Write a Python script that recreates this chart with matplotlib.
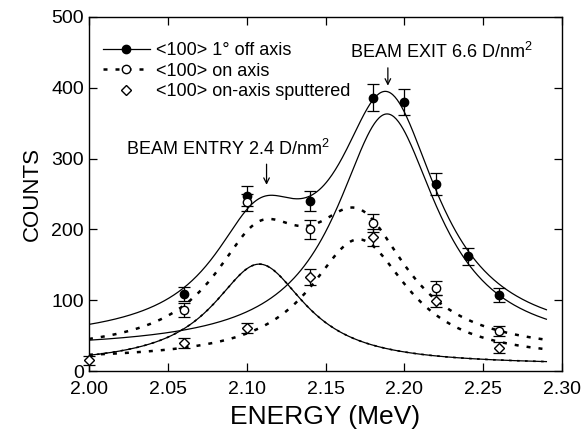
import matplotlib
matplotlib.use("Agg")
import matplotlib.pyplot as plt
import numpy as np
from matplotlib.lines import Line2D

plt.rcParams["font.family"] = ["Liberation Sans", "DejaVu Sans"]
plt.rcParams["mathtext.fontset"] = "custom"
plt.rcParams["mathtext.rm"] = "Liberation Sans"

# measured points (energy in MeV, counts, error)
E_OFF = [2.06, 2.10, 2.14, 2.18, 2.20, 2.22, 2.24, 2.26]
C_OFF = [109, 247, 240, 386, 380, 264, 162, 107]
ERR_OFF = [10, 14, 14, 19, 18, 15, 12, 10]

E_ON = [2.06, 2.10, 2.14, 2.18, 2.22, 2.26]
C_ON = [86, 238, 200, 209, 117, 57]
ERR_ON = [10, 12, 13, 13, 10, 7]

E_SPUT = [2.00, 2.06, 2.10, 2.14, 2.18, 2.22, 2.26]
C_SPUT = [15, 40, 61, 133, 189, 99, 33]
ERR_SPUT = [6, 7, 7, 11, 12, 9, 8]

# Lorentzian fit components: centre (MeV), height, half width (MeV), background
# entry peak, exit peak (off axis), sputtered peak (on axis)
PEAK_CENTRE = [2.108, 2.189, 2.171]
PEAK_HEIGHT = [143, 333, 171]
PEAK_WIDTH = [0.036, 0.039, 0.038]
PEAK_BG = [8, 30, 15]

FIT_RANGE = (2.00, 2.29)


def lorentz(e, i):
    return PEAK_BG[i] + PEAK_HEIGHT[i] / (1 + ((e - PEAK_CENTRE[i]) / PEAK_WIDTH[i]) ** 2)


e = np.linspace(FIT_RANGE[0], FIT_RANGE[1], 400)
entry = lorentz(e, 0)
exit_off = lorentz(e, 1)
sput = lorentz(e, 2)

fig = plt.figure(figsize=(5.85, 4.33), dpi=100)
ax = fig.add_axes([0.152, 0.143, 0.809, 0.818])

dash = dict(color="black", linewidth=1.8, linestyle=(0, (1.6, 3.2)))
ax.plot(e, entry + exit_off, color="black", linewidth=0.9)
ax.plot(e, exit_off, color="black", linewidth=0.9)
ax.plot(e, entry, color="black", linewidth=0.9)
ax.plot(e, entry, color="black", linewidth=1.2, linestyle=(0, (1.6, 3.2)))
ax.plot(e, entry + sput, **dash)
ax.plot(e, sput, **dash)

eb = dict(fmt="none", ecolor="black", elinewidth=0.9, capsize=4, capthick=0.9, clip_on=False)
ax.errorbar(E_OFF, C_OFF, yerr=ERR_OFF, **eb)
ax.errorbar(E_ON, C_ON, yerr=ERR_ON, **eb)
ax.errorbar(E_SPUT, C_SPUT, yerr=ERR_SPUT, **eb)
ax.plot(E_OFF, C_OFF, "o", color="black", markersize=6, zorder=5)
ax.plot(E_ON, C_ON, "o", markerfacecolor="white", markeredgecolor="black",
        markeredgewidth=1.0, markersize=6, zorder=5)
ax.plot(E_SPUT, C_SPUT, "D", markerfacecolor="white", markeredgecolor="black",
        markeredgewidth=1.0, markersize=5.5, zorder=5, clip_on=False)

handles = [
    Line2D([], [], color="black", linewidth=0.9, marker="o", markersize=6),
    Line2D([], [], color="black", linewidth=1.8, linestyle=(0, (1.6, 3.2)), marker="o",
           markerfacecolor="white", markeredgecolor="black", markersize=6),
    Line2D([], [], linestyle="none", marker="D", markerfacecolor="white",
           markeredgecolor="black", markersize=5.5),
]
labels = ["<100> 1° off axis", "<100> on axis", "<100> on-axis sputtered"]
ax.legend(handles, labels, loc="upper left", bbox_to_anchor=(-0.005, 0.975), frameon=False,
          fontsize=13, handlelength=2.6, handletextpad=0.35, labelspacing=0.2)

ax.annotate("", xy=(2.1126, 259), xytext=(2.1126, 296),
            arrowprops=dict(arrowstyle="->", color="black", lw=0.9))
ax.text(2.0878, 300, r"BEAM ENTRY 2.4 D/nm$^\mathregular{2}$", ha="center", va="bottom", fontsize=13)
ax.annotate("", xy=(2.1895, 399), xytext=(2.1895, 432),
            arrowprops=dict(arrowstyle="->", color="black", lw=0.9))
ax.text(2.2234, 436, r"BEAM EXIT 6.6 D/nm$^\mathregular{2}$", ha="center", va="bottom", fontsize=13)

ax.set_xlim(2.00, 2.30)
ax.set_ylim(0, 500)
ax.set_xticks(np.arange(2.00, 2.301, 0.05))
ax.set_yticks(np.arange(0, 501, 100))
ax.xaxis.set_major_formatter(plt.FuncFormatter(lambda v, _: f"{v:.2f}"))
ax.tick_params(direction="in", top=True, right=True, length=6, width=0.9, labelsize=14)
ax.tick_params(axis="x", pad=7)
for s in ax.spines.values():
    s.set_linewidth(1.0)
ax.set_xlabel("ENERGY (MeV)", fontsize=19, labelpad=5)
ax.set_ylabel("COUNTS", fontsize=16, labelpad=6)

fig.savefig("out.png", dpi=100)
